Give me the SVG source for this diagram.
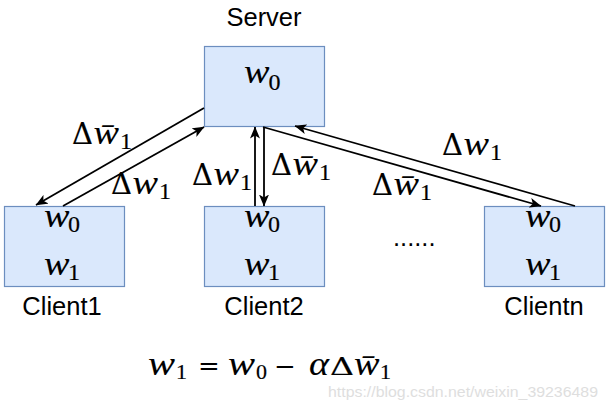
<svg xmlns="http://www.w3.org/2000/svg" width="608" height="410" viewBox="0 0 608 410">
<style>
.box{fill:#dae8fc;stroke:#6c8ebf;stroke-width:1.2}
.lbl{font-family:"Liberation Sans",Arial,sans-serif;font-size:25.5px;fill:#000}
.m{font-family:"Liberation Serif","Times New Roman",serif;font-size:34px;fill:#000;stroke:#000;stroke-width:0.2}
.i{font-style:italic;stroke-width:0.1}
.d{font-family:"DejaVu Serif",serif;font-size:29px;stroke-width:0.2}
.fd{font-family:"DejaVu Serif",serif;font-size:25px;stroke-width:0.2}
.op{font-family:"DejaVu Serif",serif;font-size:26px;stroke-width:0}
.s{font-size:24px}
.fs{font-size:22px}
.edge{fill:none;stroke:#000;stroke-width:1.8;marker-end:url(#arr)}
.wm{font-family:"Liberation Sans",Arial,sans-serif;font-size:14px;fill:#dedede}
</style>
<defs>
<marker id="arr" viewBox="0 0 12 10" markerWidth="12" markerHeight="10" refX="11.5" refY="5" orient="auto" markerUnits="userSpaceOnUse">
<path d="M0,0 L12,5 L0,10 L3,5 z" fill="#000"/>
</marker>
</defs>

<g id="server">
<text class="lbl" x="264" y="26" text-anchor="middle">Server</text>
<rect class="box" x="204.5" y="46.5" width="120" height="80"/>
<text class="m i" x="244" y="83" textLength="25.5" lengthAdjust="spacingAndGlyphs">w</text>
<text class="m s" x="268.5" y="90">0</text>
</g>

<g id="client1">
<rect class="box" x="4.5" y="206.5" width="120" height="80"/>
<text class="m i" x="44" y="227" textLength="25.5" lengthAdjust="spacingAndGlyphs">w</text>
<text class="m s" x="68" y="232">0</text>
<text class="m i" x="44" y="275" textLength="25.5" lengthAdjust="spacingAndGlyphs">w</text>
<text class="m s" x="68" y="280">1</text>
<text class="lbl" x="62" y="315" text-anchor="middle">Client1</text>
</g>

<g id="client2">
<rect class="box" x="204.5" y="206.5" width="120" height="80"/>
<text class="m i" x="244" y="227" textLength="25.5" lengthAdjust="spacingAndGlyphs">w</text>
<text class="m s" x="268" y="232">0</text>
<text class="m i" x="244" y="275" textLength="25.5" lengthAdjust="spacingAndGlyphs">w</text>
<text class="m s" x="268" y="280">1</text>
<text class="lbl" x="264" y="315" text-anchor="middle">Client2</text>
</g>

<g id="dots">
<text class="lbl" x="393" y="246">......</text>
</g>

<g id="clientn">
<rect class="box" x="484.5" y="206.5" width="120" height="80"/>
<text class="m i" x="525" y="227" textLength="25.5" lengthAdjust="spacingAndGlyphs">w</text>
<text class="m s" x="549" y="232">0</text>
<text class="m i" x="525" y="275" textLength="25.5" lengthAdjust="spacingAndGlyphs">w</text>
<text class="m s" x="549" y="280">1</text>
<text class="lbl" x="544" y="315" text-anchor="middle">Clientn</text>
</g>

<g id="connectors">
<path class="edge" d="M204,108 L36,205"/>
<path class="edge" d="M63,206 L204,127"/>
<path class="edge" d="M255,206 L255,127"/>
<path class="edge" d="M264,127 L264,206"/>
<path class="edge" d="M263,127 L541,206"/>
<path class="edge" d="M575,206 L295,126"/>
</g>

<g id="edge-labels">
<text class="m d" x="72" y="144">Δ</text><text class="m i" x="93.5" y="144" textLength="25.5" lengthAdjust="spacingAndGlyphs">w̄</text><text class="m s" x="120" y="149">1</text>
<text class="m d" x="111" y="194">Δ</text><text class="m i" x="132.5" y="194" textLength="25.5" lengthAdjust="spacingAndGlyphs">w</text><text class="m s" x="159" y="199">1</text>
<text class="m d" x="192" y="185">Δ</text><text class="m i" x="213.5" y="185" textLength="25.5" lengthAdjust="spacingAndGlyphs">w</text><text class="m s" x="240" y="190">1</text>
<text class="m d" x="271" y="175">Δ</text><text class="m i" x="292.5" y="175" textLength="25.5" lengthAdjust="spacingAndGlyphs">w̄</text><text class="m s" x="319" y="180">1</text>
<text class="m d" x="372" y="195">Δ</text><text class="m i" x="393.5" y="195" textLength="25.5" lengthAdjust="spacingAndGlyphs">w̄</text><text class="m s" x="420" y="200">1</text>
<text class="m d" x="442" y="155">Δ</text><text class="m i" x="463.5" y="155" textLength="25.5" lengthAdjust="spacingAndGlyphs">w</text><text class="m s" x="490" y="160">1</text>
</g>

<g id="formula">
<text class="m i" x="148" y="375" textLength="27" lengthAdjust="spacingAndGlyphs">w</text>
<text class="m fs" x="176" y="379">1</text>
<text class="m op" x="198" y="375">=</text>
<text class="m i" x="228" y="375" textLength="27" lengthAdjust="spacingAndGlyphs">w</text>
<text class="m fs" x="256" y="379">0</text>
<text class="m op" x="274" y="375">−</text>
<text class="m i" x="309" y="375" textLength="20" lengthAdjust="spacingAndGlyphs">α</text>
<text class="m fd" x="330" y="375" textLength="24" lengthAdjust="spacingAndGlyphs">Δ</text>
<text class="m i" x="354" y="375" textLength="25.5" lengthAdjust="spacingAndGlyphs">w̄</text>
<text class="m fs" x="380" y="379">1</text>
</g>

<text class="wm" x="328" y="396.5" textLength="270" lengthAdjust="spacingAndGlyphs">https://blog.csdn.net/weixin_39236489</text>
</svg>
